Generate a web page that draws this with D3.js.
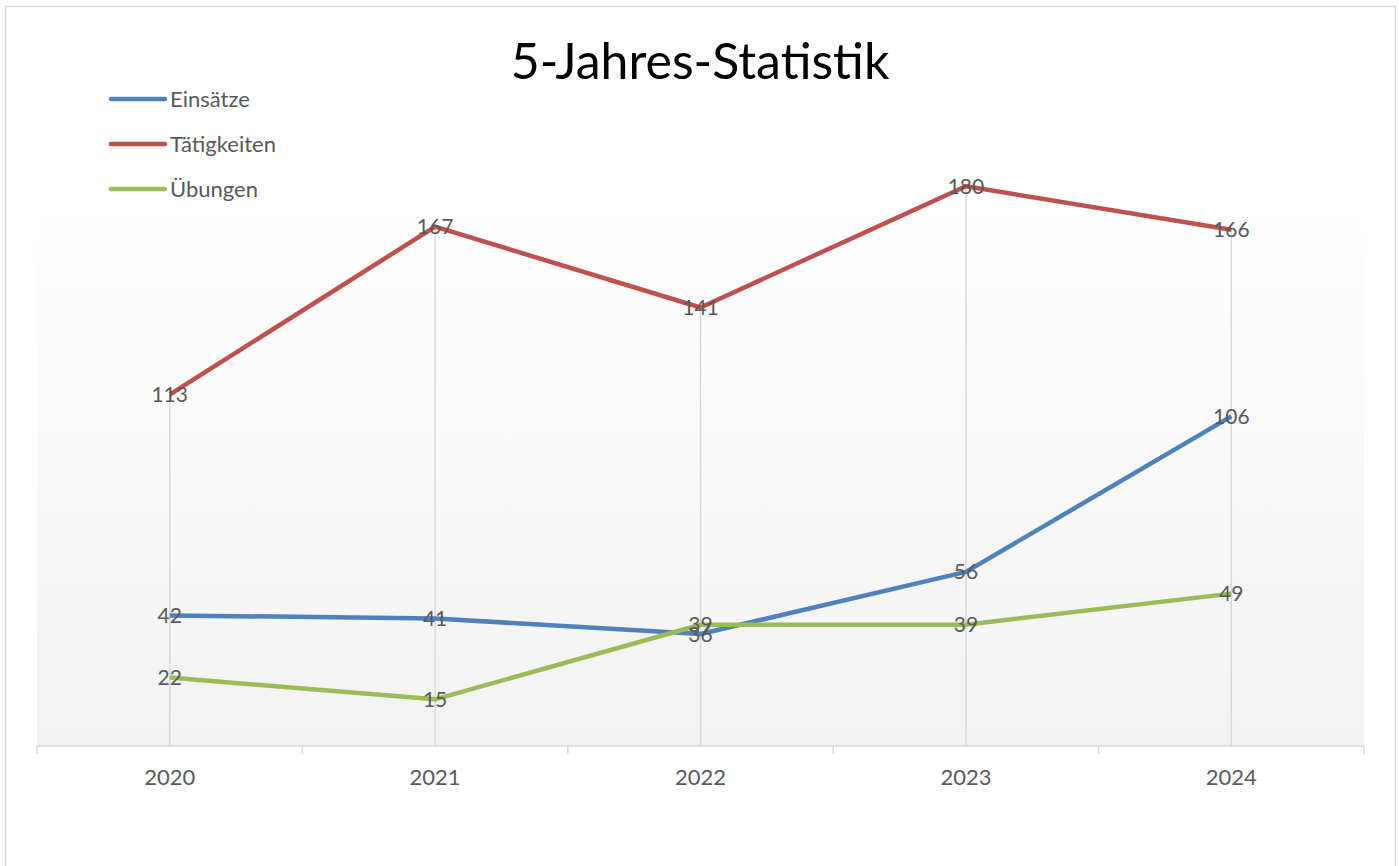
<!DOCTYPE html>
<html>
<head>
<meta charset="utf-8">
<script src="https://cdn.jsdelivr.net/npm/d3@7"></script>
<style>
  body { margin: 0; background: #fff; }
  text { font-family: Lato, "Open Sans", sans-serif; }
</style>
</head>
<body>
<div id="chart"></div>
<script>
var years = ["2020", "2021", "2022", "2023", "2024"];
var seriesNames = ["Einsätze", "Tätigkeiten", "Übungen"];
var einsaetze = [42, 41, 36, 56, 106];
var taetigkeiten = [113, 167, 141, 180, 166];
var uebungen = [22, 15, 39, 39, 49];
var colors = ["#4f81bd", "#c0504d", "#9bbb59"];

var width = 1399, height = 866;
var svg = d3.select("#chart").append("svg")
    .attr("width", width)
    .attr("height", height);

// chart frame
svg.append("rect")
    .attr("x", 5.5).attr("y", 6.5)
    .attr("width", 1390).attr("height", 870)
    .attr("fill", "#fff")
    .attr("stroke", "#d9d9d9")
    .attr("stroke-width", 1.5);

var plotLeft = 37, plotRight = 1364, plotTop = 205, plotBottom = 746;

var x = d3.scalePoint()
    .domain(years)
    .range([plotLeft, plotRight])
    .padding(0.5);

var y = d3.scaleLinear()
    .domain([0, 200])
    .range([plotBottom, 124]);

var defs = svg.append("defs");
var grad = defs.append("linearGradient")
    .attr("id", "plotGrad")
    .attr("x1", 0).attr("y1", 0).attr("x2", 0).attr("y2", 1);
grad.append("stop").attr("offset", "0%").attr("stop-color", "#ffffff");
grad.append("stop").attr("offset", "100%").attr("stop-color", "#f2f2f2");

svg.append("rect")
    .attr("x", plotLeft).attr("y", plotTop)
    .attr("width", plotRight - plotLeft)
    .attr("height", plotBottom - plotTop)
    .attr("fill", "url(#plotGrad)");

// title
svg.append("text")
    .attr("x", 700).attr("y", 79)
    .attr("text-anchor", "middle")
    .attr("font-size", 50)
    .attr("fill", "#000")
    .text("5-Jahres-Statistik");

var allSeries = [einsaetze, taetigkeiten, uebungen];

// drop lines from highest point to axis
svg.selectAll(".drop")
    .data(years)
    .enter().append("line")
    .attr("class", "drop")
    .attr("x1", function(d) { return x(d); })
    .attr("x2", function(d) { return x(d); })
    .attr("y1", function(d, i) {
        return y(d3.max(allSeries, function(s) { return s[i]; }));
    })
    .attr("y2", plotBottom)
    .attr("stroke", "#d9d9d9")
    .attr("stroke-width", 1.5);

// x axis
var step = x.step();
var tickPos = d3.range(years.length + 1).map(function(i) { return plotLeft + i * step; });
svg.append("line")
    .attr("x1", plotLeft).attr("x2", plotRight)
    .attr("y1", plotBottom).attr("y2", plotBottom)
    .attr("stroke", "#d9d9d9")
    .attr("stroke-width", 1.5);
svg.selectAll(".tick")
    .data(tickPos)
    .enter().append("line")
    .attr("x1", function(d) { return d; })
    .attr("x2", function(d) { return d; })
    .attr("y1", plotBottom).attr("y2", plotBottom + 8)
    .attr("stroke", "#d9d9d9")
    .attr("stroke-width", 1.5);
svg.selectAll(".xlabel")
    .data(years)
    .enter().append("text")
    .attr("x", function(d) { return x(d); })
    .attr("y", 785)
    .attr("text-anchor", "middle")
    .attr("font-size", 22)
    .attr("fill", "#595959")
    .text(function(d) { return d; });

var line = d3.line()
    .x(function(d, i) { return x(years[i]); })
    .y(function(d) { return y(d); });

allSeries.forEach(function(s, k) {
    svg.append("path")
        .datum(s)
        .attr("d", line)
        .attr("fill", "none")
        .attr("stroke", colors[k])
        .attr("stroke-width", 4.5)
        .attr("stroke-linejoin", "round");
});

allSeries.forEach(function(s, k) {
    svg.selectAll(".lbl" + k)
        .data(s)
        .enter().append("text")
        .attr("x", function(d, i) { return x(years[i]); })
        .attr("y", function(d) { return y(d); })
        .attr("dy", "0.36em")
        .attr("text-anchor", "middle")
        .attr("font-size", 21)
        .attr("fill", "#595959")
        .text(function(d) { return d; });
});

// legend
var legend = svg.selectAll(".legend")
    .data(seriesNames)
    .enter().append("g")
    .attr("transform", function(d, i) { return "translate(111," + (99 + i * 45) + ")"; });
legend.append("line")
    .attr("x1", 0).attr("x2", 54)
    .attr("stroke", function(d, i) { return colors[i]; })
    .attr("stroke-width", 4.5)
    .attr("stroke-linecap", "round");
legend.append("text")
    .attr("x", 59)
    .attr("dy", "0.35em")
    .attr("font-size", 22)
    .attr("fill", "#595959")
    .text(function(d) { return d; });
</script>
</body>
</html>
